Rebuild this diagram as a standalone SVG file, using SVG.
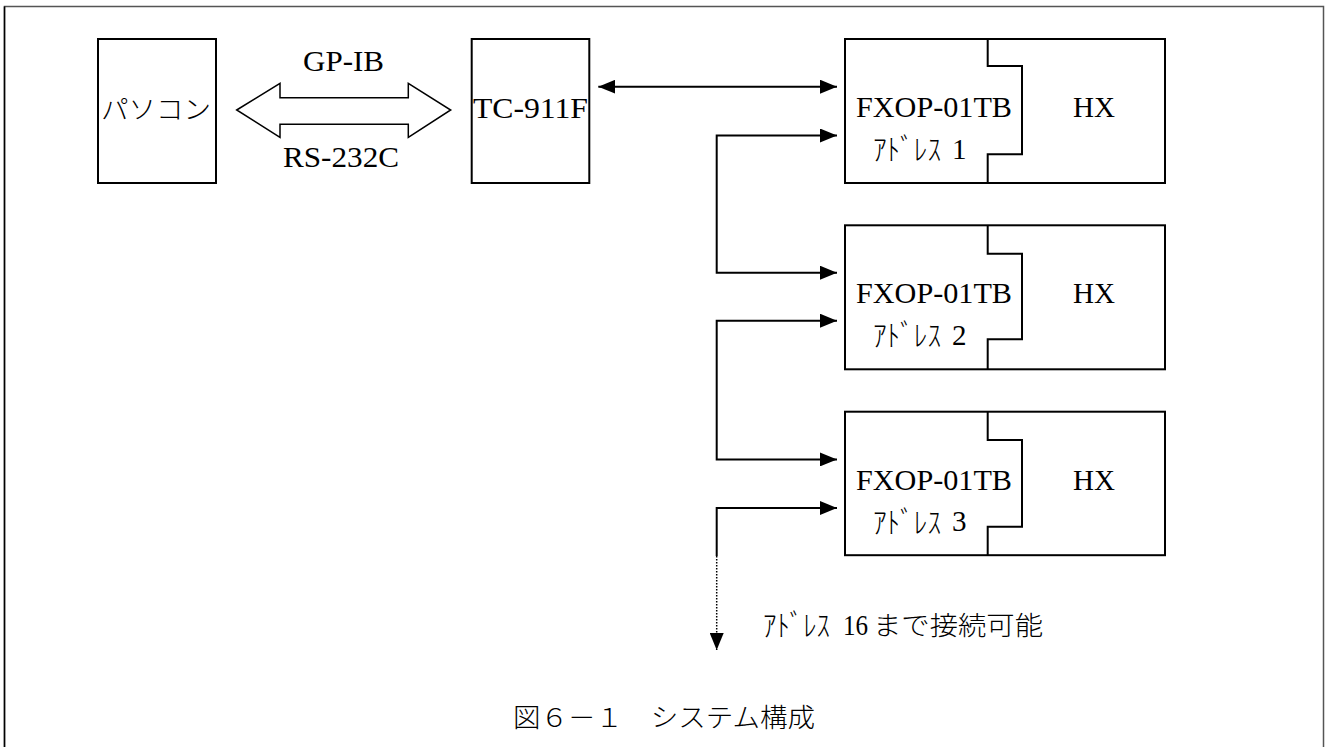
<svg xmlns="http://www.w3.org/2000/svg" width="1327" height="747" viewBox="0 0 1327 747">
<style>
.box{fill:#fff;stroke:#000;stroke-width:2}
.ln{fill:none;stroke:#000;stroke-width:2}
.lat{font-family:"Liberation Serif","DejaVu Serif",serif;font-size:29px;fill:#000}
.jp{font-family:"Noto Sans CJK JP","Noto Sans",sans-serif;font-size:26px;fill:#000;font-weight:300}
.kana{font-family:"Noto Sans CJK JP","Noto Sans",sans-serif;font-size:30px;fill:#000;font-weight:300}
</style>
<defs>
<marker id="ah" viewBox="0 0 17 14" refX="17" refY="7" markerWidth="17" markerHeight="14" markerUnits="userSpaceOnUse" orient="auto-start-reverse">
<path d="M0,0 L17,7 L0,14 Z" fill="#000" stroke="none"/>
</marker>
</defs>
<rect x="4.5" y="6.5" width="1319" height="800" fill="#fff" stroke="#555" stroke-width="1.5"/>
<line x1="4.5" y1="6.5" x2="4.5" y2="747" stroke="#000" stroke-width="1.5"/>
<g id="pc">
<rect class="box" x="98" y="39" width="118" height="144"/>
<text class="jp" x="101" y="119" textLength="110" lengthAdjust="spacingAndGlyphs">パソコン</text>
</g>
<g id="bus">
<polygon points="236.7,110 280,83.3 280,97.7 408.3,97.7 408.3,83.3 450.7,110 408.3,137.3 408.3,124.3 280,124.3 280,137.3" fill="#fff" stroke="#000" stroke-width="1.5"/>
<text class="lat" x="303" y="70.5" textLength="81" lengthAdjust="spacingAndGlyphs">GP-IB</text>
<text class="lat" x="283" y="167" textLength="116" lengthAdjust="spacingAndGlyphs">RS-232C</text>
</g>
<g id="tc911f">
<rect class="box" x="471.7" y="39" width="117.6" height="144"/>
<text class="lat" x="473" y="118" textLength="115" lengthAdjust="spacingAndGlyphs">TC-911F</text>
</g>
<g id="unit1">
<rect class="box" x="845" y="39" width="320" height="144"/>
<path class="ln" d="M987.7,39 V66 H1022 V154.3 H987.7 V183"/>
<text class="lat" x="856" y="117" textLength="156" lengthAdjust="spacingAndGlyphs">FXOP-01TB</text>
<text class="kana" x="873" y="160" textLength="68" lengthAdjust="spacingAndGlyphs">ｱﾄﾞﾚｽ</text>
<text class="lat" x="952" y="158.5">1</text>
<text class="lat" x="1073" y="117" textLength="42" lengthAdjust="spacingAndGlyphs">HX</text>
</g>
<g id="unit2">
<rect class="box" x="845" y="225.3" width="320" height="144"/>
<path class="ln" d="M987.7,225.3 V253.7 H1022 V339.3 H987.7 V369.3"/>
<text class="lat" x="856" y="303.3" textLength="156" lengthAdjust="spacingAndGlyphs">FXOP-01TB</text>
<text class="kana" x="873" y="346.3" textLength="68" lengthAdjust="spacingAndGlyphs">ｱﾄﾞﾚｽ</text>
<text class="lat" x="952" y="344.8">2</text>
<text class="lat" x="1073" y="303.3" textLength="42" lengthAdjust="spacingAndGlyphs">HX</text>
</g>
<g id="unit3">
<rect class="box" x="845" y="411.7" width="320" height="143.5"/>
<path class="ln" d="M987.7,411.7 V440 H1022 V526.7 H987.7 V555.2"/>
<text class="lat" x="856" y="489.6" textLength="156" lengthAdjust="spacingAndGlyphs">FXOP-01TB</text>
<text class="kana" x="873" y="532.6" textLength="68" lengthAdjust="spacingAndGlyphs">ｱﾄﾞﾚｽ</text>
<text class="lat" x="952" y="531.1">3</text>
<text class="lat" x="1073" y="489.6" textLength="42" lengthAdjust="spacingAndGlyphs">HX</text>
</g>
<g id="connectors">
<path class="ln" d="M598.3,86.7 H837" marker-start="url(#ah)" marker-end="url(#ah)"/>
<path class="ln" d="M837,135.5 H716.7 V272.7 H837" marker-start="url(#ah)" marker-end="url(#ah)"/>
<path class="ln" d="M837,320.7 H716.7 V459.4 H837" marker-start="url(#ah)" marker-end="url(#ah)"/>
<path class="ln" d="M837,508 H716.7 V556" marker-start="url(#ah)"/>
<path d="M716.7,556 V650" fill="none" stroke="#000" stroke-width="1.5" stroke-dasharray="1.5,1.5" marker-end="url(#ah)"/>
</g>
<g id="note">
<text class="kana" x="763" y="636" textLength="67" lengthAdjust="spacingAndGlyphs">ｱﾄﾞﾚｽ</text>
<text class="lat" x="843" y="634.5" textLength="25" lengthAdjust="spacingAndGlyphs">16</text>
<text class="jp" x="873" y="635" textLength="170" lengthAdjust="spacingAndGlyphs">まで接続可能</text>
</g>
<g id="caption">
<text class="jp" x="513" y="727" textLength="302" lengthAdjust="spacingAndGlyphs">図６－１　システム構成</text>
</g>
</svg>
